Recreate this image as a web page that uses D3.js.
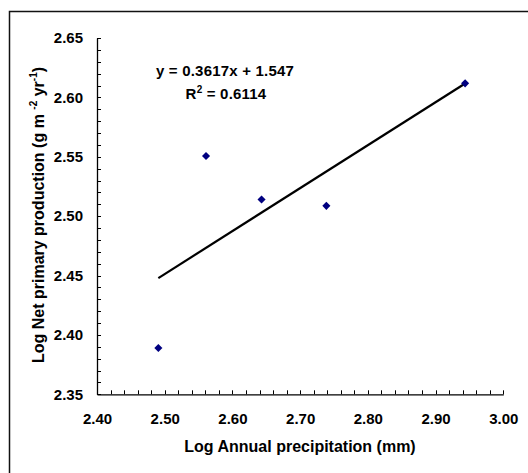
<!DOCTYPE html>
<html>
<head>
<meta charset="utf-8">
<script src="https://cdn.jsdelivr.net/npm/d3@7"></script>
<style>
  body { margin: 0; background: #fff; }
  svg { display: block; font-family: "Liberation Sans", Arial, sans-serif; font-weight: bold; }
</style>
</head>
<body>
<div id="chart"></div>
<script>
const precip = [2.4906, 2.561, 2.643, 2.7387, 2.9436];
const npp = [2.389, 2.5506, 2.514, 2.5087, 2.6118];
const xTicks = [2.40, 2.50, 2.60, 2.70, 2.80, 2.90, 3.00];
const yTicks = [2.35, 2.40, 2.45, 2.50, 2.55, 2.60, 2.65];
const slope = 0.3617;
const intercept = 1.547;

const w = 528;
const h = 473;
const svg = d3.select('#chart').append('svg').attr('width', w).attr('height', h);

// outer frame, cropped at right and bottom
svg.append('rect')
    .attr('x', 9.5).attr('y', 11.5)
    .attr('width', 540).attr('height', 480)
    .attr('fill', 'none').attr('stroke', '#111').attr('stroke-width', 1.5);

const xScale = d3.scaleLinear().domain([2.40, 3.00]).range([97, 503.3]);
const yScale = d3.scaleLinear().domain([2.35, 2.65]).range([394.3, 38]);

const xAxis = d3.axisBottom(xScale).tickValues(xTicks).tickFormat(d3.format('.2f')).tickSize(0).tickPadding(19);
const yAxis = d3.axisLeft(yScale).tickValues(yTicks).tickFormat(d3.format('.2f')).tickSize(0).tickPadding(14);

const gx = svg.append('g').attr('transform', 'translate(0,' + yScale(2.35) + ')').call(xAxis);
const gy = svg.append('g').attr('transform', 'translate(' + xScale(2.40) + ',0)').call(yAxis);
[gx, gy].forEach(g => {
    g.select('.domain').attr('stroke', '#000').attr('stroke-width', 1.3);
    g.selectAll('text').attr('font-size', 15).attr('font-weight', 'bold').attr('fill', '#000')
        .attr('font-family', '"Liberation Sans", Arial, sans-serif');
});

// inward minor ticks
const xMinor = d3.range(0, 31).map(i => 2.40 + i * 0.02);
const yMinor = d3.range(0, 31).map(i => 2.35 + i * 0.01);
svg.append('g').selectAll('line').data(xMinor).enter().append('line')
    .attr('x1', d => Math.round(xScale(d)) + 0.5).attr('x2', d => Math.round(xScale(d)) + 0.5)
    .attr('y1', yScale(2.35)).attr('y2', yScale(2.35) - 4)
    .attr('stroke', '#000').attr('stroke-width', 1);
svg.append('g').selectAll('line').data(yMinor).enter().append('line')
    .attr('y1', d => Math.round(yScale(d)) + 0.5).attr('y2', d => Math.round(yScale(d)) + 0.5)
    .attr('x1', xScale(2.40)).attr('x2', xScale(2.40) + 4)
    .attr('stroke', '#000').attr('stroke-width', 1);

// trend line
const x0 = d3.min(precip), x1 = d3.max(precip);
svg.append('line')
    .attr('x1', xScale(x0)).attr('y1', yScale(slope * x0 + intercept))
    .attr('x2', xScale(x1)).attr('y2', yScale(slope * x1 + intercept))
    .attr('stroke', '#000').attr('stroke-width', 2.2);

// diamonds
svg.append('g').selectAll('path')
    .data(precip.map((p, i) => [p, npp[i]]))
    .enter().append('path')
    .attr('d', d3.symbol().type(d3.symbolDiamond2).size(42))
    .attr('transform', d => 'translate(' + xScale(d[0]) + ',' + yScale(d[1]) + ')')
    .attr('fill', '#000080');

// equation
svg.append('text').attr('x', 225).attr('y', 76).attr('text-anchor', 'middle')
    .attr('font-size', 15).attr('letter-spacing', 0.2).text('y = ' + slope + 'x + ' + intercept);
const r2 = svg.append('text').attr('x', 226).attr('y', 98.5).attr('text-anchor', 'middle')
    .attr('font-size', 15).attr('letter-spacing', 0.2);
r2.append('tspan').text('R');
r2.append('tspan').attr('font-size', 10).attr('dy', -6).text('2');
r2.append('tspan').attr('dy', 6).text(' = 0.6114');

// axis titles
svg.append('text').attr('x', 300).attr('y', 452).attr('text-anchor', 'middle')
    .attr('font-size', 16).text('Log Annual precipitation (mm)');
const yt = svg.append('text').attr('transform', 'translate(43.5,215) rotate(-90)')
    .attr('text-anchor', 'middle').attr('font-size', 16);
yt.append('tspan').text('Log Net primary production (g m ');
yt.append('tspan').attr('font-size', 10).attr('dy', -7).text('-2');
yt.append('tspan').attr('dy', 7).text(' yr');
yt.append('tspan').attr('font-size', 10).attr('dy', -7).text('-1');
yt.append('tspan').attr('dy', 7).text(')');
</script>
</body>
</html>
